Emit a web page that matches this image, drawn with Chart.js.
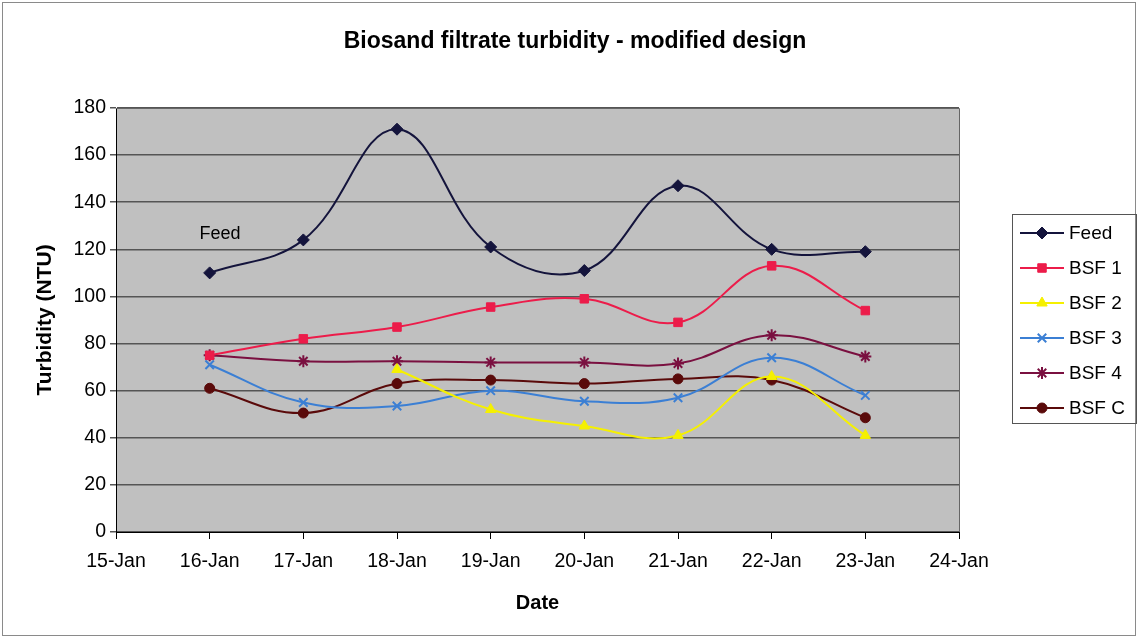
<!DOCTYPE html>
<html>
<head>
<meta charset="utf-8">
<script src="https://cdn.jsdelivr.net/npm/chart.js@4/dist/chart.umd.min.js"></script>
<style>
  html, body { margin: 0; padding: 0; background: #fff; }
  #wrap { width: 1138px; height: 638px; position: relative; }
</style>
</head>
<body>
<div id="wrap"><canvas id="turbidity_graph" width="1138" height="638"></canvas></div>
<script>
// days of January that have readings
const days = [16, 17, 18, 19, 20, 21, 22, 23]
const xTickLabels = ['15-Jan', '16-Jan', '17-Jan', '18-Jan', '19-Jan', '20-Jan', '21-Jan', '22-Jan', '23-Jan', '24-Jan']

const feed = [110, 124, 171, 121, 111, 147, 120, 119]
const bsf1 = [75, 82, 87, 95.5, 99, 89, 113, 94]
const bsf2 = [null, null, 69, 52, 45, 41, 66, 41]
const bsf3 = [71, 55, 53.5, 60, 55.5, 57, 74, 58]
const bsf4 = [75, 72.5, 72.5, 72, 72, 71.5, 83.5, 74.5]
const bsfC = [61, 50.5, 63, 64.5, 63, 65, 64.5, 48.5]

const chartTitle = 'Biosand filtrate turbidity - modified design'
const FONT = "'Liberation Sans', Arial, sans-serif"

function pts(vals) {
  let out = []
  vals.forEach((v, i) => { if (v !== null) out.push({ x: days[i], y: v }) })
  return out
}

function series(label, vals, color, style, radius) {
  return {
    label: label,
    data: pts(vals),
    borderColor: color,
    backgroundColor: color,
    pointBackgroundColor: color,
    pointBorderColor: color,
    pointStyle: style,
    pointRadius: radius,
    pointBorderWidth: (style == 'crossRot' || style == 'star') ? 2 : 1,
    borderWidth: 2,
    tension: 0.4,
    fill: false
  }
}

// plot area background, frame, title, "Feed" label and boxed legend
const decor = {
  id: 'decor',
  beforeDraw(chart) {
    const { ctx, chartArea: a } = chart
    ctx.save()
    ctx.fillStyle = '#ffffff'
    ctx.fillRect(0, 0, chart.width, chart.height)
    ctx.strokeStyle = '#8a8a8a'
    ctx.lineWidth = 1
    ctx.strokeRect(2.5, 2.5, chart.width - 5, chart.height - 5)
    ctx.fillStyle = '#c0c0c0'
    ctx.fillRect(a.left, a.top, a.right - a.left, a.bottom - a.top)
    ctx.restore()
  },
  afterDraw(chart) {
    const { ctx, chartArea: a, scales } = chart
    ctx.save()
    ctx.strokeStyle = '#666'
    ctx.lineWidth = 1
    ctx.beginPath()
    ctx.moveTo(a.left, a.top + 0.5)
    ctx.lineTo(a.right + 0.5, a.top + 0.5)
    ctx.lineTo(a.right + 0.5, a.bottom)
    ctx.stroke()

    ctx.fillStyle = '#000'
    ctx.textAlign = 'center'
    ctx.textBaseline = 'middle'
    ctx.font = 'bold 23px ' + FONT
    ctx.fillText(chartTitle, 575, 42)

    ctx.font = '18px ' + FONT
    ctx.fillText('Feed', scales.x.getPixelForValue(16.11), scales.y.getPixelForValue(126.5))

    // legend
    const lx = 1012, ly = 214, lw = 124, lh = 209
    ctx.strokeStyle = '#555'
    ctx.strokeRect(lx + 0.5, ly + 0.5, lw, lh)
    chart.data.datasets.forEach((ds, i) => {
      const y = 233 + i * 35
      ctx.strokeStyle = ds.borderColor
      ctx.lineWidth = 2
      ctx.beginPath()
      ctx.moveTo(lx + 8, y)
      ctx.lineTo(lx + 52, y)
      ctx.stroke()
      ctx.fillStyle = ds.borderColor
      ctx.lineWidth = ds.pointBorderWidth
      Chart.helpers.drawPoint(ctx, { pointStyle: ds.pointStyle, radius: ds.pointRadius, borderWidth: ds.pointBorderWidth, rotation: 0 }, lx + 30, y)
      ctx.fillStyle = '#000'
      ctx.font = '19px ' + FONT
      ctx.textAlign = 'left'
      ctx.fillText(ds.label, lx + 57, y + 1)
    })
    ctx.restore()
  }
}

new Chart(document.getElementById('turbidity_graph'), {
  type: 'line',
  data: {
    datasets: [
      series('Feed', feed, '#14143c', 'rectRot', 6),
      series('BSF 1', bsf1, '#ec1c4a', 'rect', 6),
      series('BSF 2', bsf2, '#f5f000', 'triangle', 6),
      series('BSF 3', bsf3, '#3b7fd4', 'crossRot', 6),
      series('BSF 4', bsf4, '#7a1040', 'star', 6),
      series('BSF C', bsfC, '#5a0a0a', 'circle', 5)
    ]
  },
  options: {
    responsive: false,
    animation: false,
    devicePixelRatio: 1,
    layout: { padding: { left: 0, right: 179, top: 108, bottom: 0 } },
    plugins: {
      legend: { display: false },
      tooltip: { enabled: false },
      title: { display: false }
    },
    scales: {
      x: {
        type: 'linear',
        min: 15,
        max: 24,
        afterFit: s => { s.height = 106 },
        ticks: {
          stepSize: 1,
          color: '#000',
          padding: 11,
          font: { family: FONT, size: 19.5 },
          callback: (v) => xTickLabels[v - 15]
        },
        grid: { drawOnChartArea: false, drawTicks: true, tickLength: 7, color: '#000' },
        border: { color: '#000', width: 1 },
        title: {
          display: true,
          text: 'Date',
          color: '#000',
          font: { family: FONT, size: 20, weight: 'bold' },
          padding: { top: 23, bottom: 23 }
        }
      },
      y: {
        min: 0,
        max: 180,
        afterFit: s => { s.width = 116 },
        ticks: {
          stepSize: 20,
          color: '#000',
          padding: 4,
          font: { family: FONT, size: 19.5 }
        },
        grid: { color: '#555', tickLength: 6, lineWidth: 1.5 },
        border: { color: '#000', width: 1 },
        title: {
          display: true,
          text: 'Turbidity (NTU)',
          color: '#000',
          font: { family: FONT, size: 21, weight: 'bold' },
          padding: { top: 33, bottom: 33 }
        }
      }
    }
  },
  plugins: [decor]
})
</script>
</body>
</html>
